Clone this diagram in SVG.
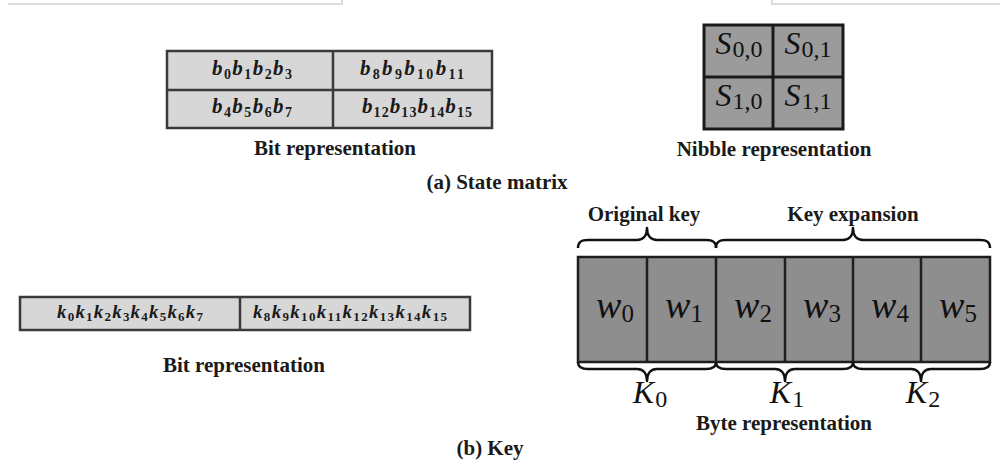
<svg xmlns="http://www.w3.org/2000/svg" width="1000" height="464" viewBox="0 0 1000 464">
<style>
.lbl{font-family:'Liberation Serif','DejaVu Serif',serif;font-weight:bold;font-size:21px;fill:#1a1a1a;text-anchor:middle}
.bit{font-family:'Liberation Serif','DejaVu Serif',serif;font-style:italic;font-weight:bold;font-size:21px;fill:#1a1a1a;text-anchor:middle}
.key{font-family:'Liberation Serif','DejaVu Serif',serif;font-style:italic;font-weight:bold;font-size:19px;fill:#1a1a1a;text-anchor:middle}
.s{font-style:normal;font-size:14px}
.ks{font-style:normal;font-size:13px}
.math{font-family:'Liberation Serif','DejaVu Serif',serif;font-style:italic;fill:#111;text-anchor:middle}
.msub{font-style:normal}
.light{fill:#d7d7d7;stroke:#3a3a3a;stroke-width:2.5}
.grid{stroke:#3a3a3a;stroke-width:2.5}
.nib{fill:#9b9b9b;stroke:#1a1a1a;stroke-width:3}
.word{fill:#8e8e8e;stroke:#1e1e1e;stroke-width:2.5}
.brace{fill:none;stroke:#111;stroke-width:2.5;stroke-linejoin:round}
.frame{stroke:#cfcfcf;stroke-width:1.5;fill:none}
</style>

<g id="frame">
<path class="frame" d="M8,4 L342,4 L342,0"/>
<path class="frame" d="M1000,4 L772,4 L772,0"/>
</g>

<g id="state-bit">
<rect class="light" x="167" y="51" width="325" height="77"/>
<line class="grid" x1="333" y1="51" x2="333" y2="128"/>
<line class="grid" x1="167" y1="90" x2="492" y2="90"/>
<text class="bit" x="252" y="75" textLength="80" lengthAdjust="spacing">b<tspan class="s" dy="4">0</tspan><tspan dy="-4">b</tspan><tspan class="s" dy="4">1</tspan><tspan dy="-4">b</tspan><tspan class="s" dy="4">2</tspan><tspan dy="-4">b</tspan><tspan class="s" dy="4">3</tspan></text>
<text class="bit" x="412" y="75" textLength="104" lengthAdjust="spacing">b<tspan class="s" dy="4">8</tspan><tspan dy="-4">b</tspan><tspan class="s" dy="4">9</tspan><tspan dy="-4">b</tspan><tspan class="s" dy="4">10</tspan><tspan dy="-4">b</tspan><tspan class="s" dy="4">11</tspan></text>
<text class="bit" x="252" y="113" textLength="80" lengthAdjust="spacing">b<tspan class="s" dy="4">4</tspan><tspan dy="-4">b</tspan><tspan class="s" dy="4">5</tspan><tspan dy="-4">b</tspan><tspan class="s" dy="4">6</tspan><tspan dy="-4">b</tspan><tspan class="s" dy="4">7</tspan></text>
<text class="bit" x="417" y="113" textLength="110" lengthAdjust="spacing">b<tspan class="s" dy="4">12</tspan><tspan dy="-4">b</tspan><tspan class="s" dy="4">13</tspan><tspan dy="-4">b</tspan><tspan class="s" dy="4">14</tspan><tspan dy="-4">b</tspan><tspan class="s" dy="4">15</tspan></text>
<text class="lbl" x="335" y="155">Bit representation</text>
</g>

<g id="nibble">
<rect class="nib" x="704" y="25" width="139" height="104"/>
<line class="nib" x1="773" y1="25" x2="773" y2="129"/>
<line class="nib" x1="704" y1="77" x2="843" y2="77"/>
<text class="math" x="739" y="54" font-size="32">S<tspan class="msub" font-size="24" dx="1" dy="3">0,0</tspan></text>
<text class="math" x="808" y="54" font-size="32">S<tspan class="msub" font-size="24" dx="1" dy="3">0,1</tspan></text>
<text class="math" x="739" y="106" font-size="32">S<tspan class="msub" font-size="24" dx="1" dy="3">1,0</tspan></text>
<text class="math" x="808" y="106" font-size="32">S<tspan class="msub" font-size="24" dx="1" dy="3">1,1</tspan></text>
<text class="lbl" x="774" y="156">Nibble representation</text>
</g>

<text class="lbl" x="497" y="189">(a) State matrix</text>

<g id="key-bit">
<rect class="light" x="20" y="297" width="450" height="33"/>
<line class="grid" x1="240" y1="297" x2="240" y2="330"/>
<text class="key" x="130" y="318" textLength="146" lengthAdjust="spacing">k<tspan class="ks" dy="3">0</tspan><tspan dy="-3">k</tspan><tspan class="ks" dy="3">1</tspan><tspan dy="-3">k</tspan><tspan class="ks" dy="3">2</tspan><tspan dy="-3">k</tspan><tspan class="ks" dy="3">3</tspan><tspan dy="-3">k</tspan><tspan class="ks" dy="3">4</tspan><tspan dy="-3">k</tspan><tspan class="ks" dy="3">5</tspan><tspan dy="-3">k</tspan><tspan class="ks" dy="3">6</tspan><tspan dy="-3">k</tspan><tspan class="ks" dy="3">7</tspan></text>
<text class="key" x="350" y="318" textLength="194" lengthAdjust="spacing">k<tspan class="ks" dy="3">8</tspan><tspan dy="-3">k</tspan><tspan class="ks" dy="3">9</tspan><tspan dy="-3">k</tspan><tspan class="ks" dy="3">10</tspan><tspan dy="-3">k</tspan><tspan class="ks" dy="3">11</tspan><tspan dy="-3">k</tspan><tspan class="ks" dy="3">12</tspan><tspan dy="-3">k</tspan><tspan class="ks" dy="3">13</tspan><tspan dy="-3">k</tspan><tspan class="ks" dy="3">14</tspan><tspan dy="-3">k</tspan><tspan class="ks" dy="3">15</tspan></text>
<text class="lbl" x="244" y="372">Bit representation</text>
</g>

<g id="words">
<rect class="word" x="578" y="257" width="412" height="105"/>
<line class="word" x1="647" y1="257" x2="647" y2="362"/>
<line class="word" x1="716" y1="257" x2="716" y2="362"/>
<line class="word" x1="785" y1="257" x2="785" y2="362"/>
<line class="word" x1="853" y1="257" x2="853" y2="362"/>
<line class="word" x1="921" y1="257" x2="921" y2="362"/>
<text class="math" x="615" y="318" font-size="38">w<tspan class="msub" font-size="25" dy="4">0</tspan></text>
<text class="math" x="684" y="318" font-size="38">w<tspan class="msub" font-size="25" dy="4">1</tspan></text>
<text class="math" x="753" y="318" font-size="38">w<tspan class="msub" font-size="25" dy="4">2</tspan></text>
<text class="math" x="822" y="318" font-size="38">w<tspan class="msub" font-size="25" dy="4">3</tspan></text>
<text class="math" x="890" y="318" font-size="38">w<tspan class="msub" font-size="25" dy="4">4</tspan></text>
<text class="math" x="958" y="318" font-size="38">w<tspan class="msub" font-size="25" dy="4">5</tspan></text>
</g>

<g id="braces">
<path class="brace" d="M578,248 C578,242 581,240 588,240 L637,240 C643,240 647,236 647,228 C647,236 651,240 657,240 L706,240 C713,240 716,242 716,248"/>
<path class="brace" d="M716,248 C716,242 719,240 726,240 L843,240 C849,240 853,236 853,228 C853,236 857,240 863,240 L980,240 C987,240 990,242 990,248"/>
<path class="brace" d="M578,362 C578,367 581,369 588,369 L637,369 C643,369 647,373 647,381 C647,373 651,369 657,369 L706,369 C713,369 716,367 716,362"/>
<path class="brace" d="M716,362 C716,367 719,369 726,369 L775,369 C781,369 785,373 785,381 C785,373 789,369 795,369 L843,369 C850,369 853,367 853,362"/>
<path class="brace" d="M853,362 C853,367 856,369 863,369 L911,369 C917,369 921,373 921,381 C921,373 925,369 931,369 L980,369 C987,369 990,367 990,362"/>
</g>

<g id="brace-labels">
<text class="lbl" x="644" y="221">Original key</text>
<text class="lbl" x="853" y="221">Key expansion</text>
<text class="math" x="650" y="403" font-size="32">K<tspan class="msub" font-size="24" dx="1" dy="4">0</tspan></text>
<text class="math" x="787" y="403" font-size="32">K<tspan class="msub" font-size="24" dx="1" dy="4">1</tspan></text>
<text class="math" x="923" y="403" font-size="32">K<tspan class="msub" font-size="24" dx="1" dy="4">2</tspan></text>
<text class="lbl" x="784" y="430">Byte representation</text>
</g>

<text class="lbl" x="490" y="455">(b) Key</text>
</svg>
